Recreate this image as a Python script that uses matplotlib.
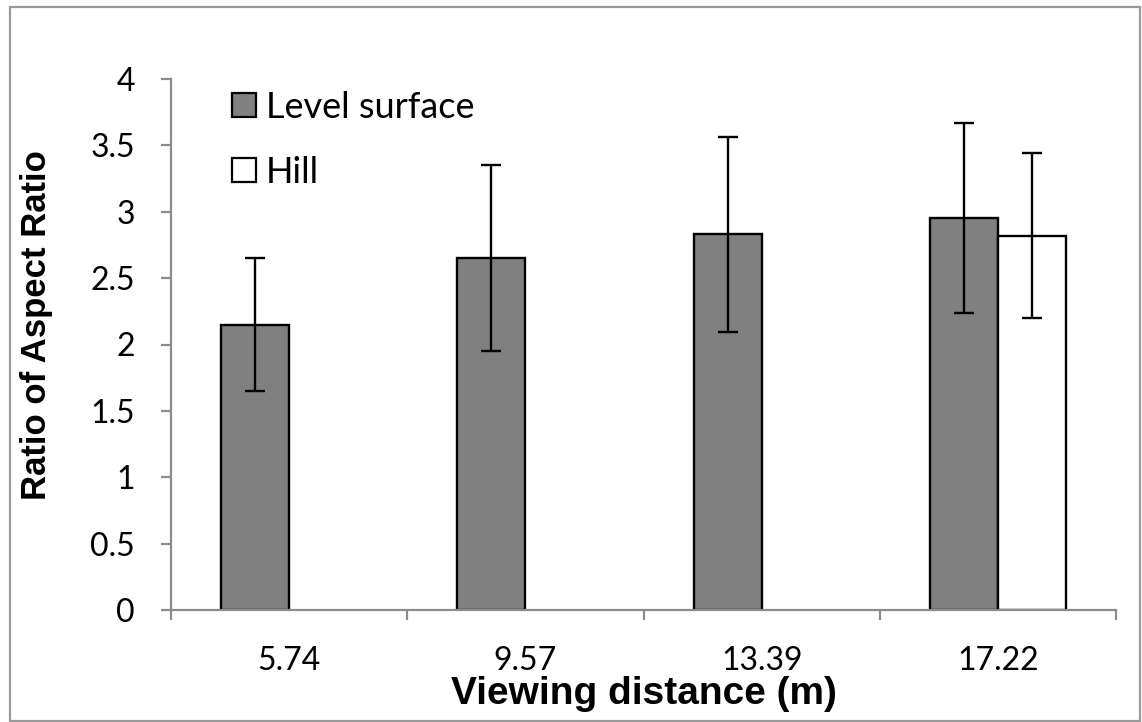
import matplotlib
matplotlib.use("Agg")
import matplotlib.pyplot as plt
from matplotlib.patches import Rectangle, Patch
import numpy as np

categories = ["5.74", "9.57", "13.39", "17.22"]
level_values = [2.15, 2.65, 2.83, 2.95]
level_errors = [0.50, 0.70, 0.735, 0.715]
hill_categories = ["17.22"]
hill_values = [2.82]
hill_errors = [0.62]
yticks = [0, 0.5, 1, 1.5, 2, 2.5, 3, 3.5, 4]
ytick_labels = ["0", "0.5", "1", "1.5", "2", "2.5", "3", "3.5", "4"]

W, H = 1142, 722
fig = plt.figure(figsize=(W / 100, H / 100), dpi=100)
ax = fig.add_axes([171 / W, 1 - 610 / H, (1116 - 171) / W, (610 - 79) / H])

tick_font = "Lato"
label_font = "Liberation Sans"

x = np.arange(len(categories))
bw = 0.288
ax.bar(x - bw / 2, level_values, width=bw, color="#808080", edgecolor="black",
       linewidth=1.7, label="Level surface", zorder=2)
ax.errorbar(x - bw / 2, level_values, yerr=level_errors, fmt="none", ecolor="black",
            elinewidth=1.7, capsize=7, capthick=1.7, zorder=3)
hx = np.array([categories.index(c) for c in hill_categories])
ax.bar(hx + bw / 2, hill_values, width=bw, color="white", edgecolor="black",
       linewidth=1.7, label="Hill", zorder=2)
ax.errorbar(hx + bw / 2, hill_values, yerr=hill_errors, fmt="none", ecolor="black",
            elinewidth=1.7, capsize=7, capthick=1.7, zorder=3)

ax.set_xlim(-0.5, len(categories) - 0.5)
ax.set_ylim(0, 4)
ax.set_yticks(yticks)
ax.set_yticklabels(ytick_labels, fontfamily=tick_font, fontsize=23)
ax.set_xticks(x)
ax.set_xticklabels(categories, fontfamily=tick_font, fontsize=23)
ax.set_xticks(np.arange(len(categories) + 1) - 0.5, minor=True)

for s in ["top", "right"]:
    ax.spines[s].set_visible(False)
for s in ["left", "bottom"]:
    ax.spines[s].set_color("#8c8c8c")
    ax.spines[s].set_linewidth(1.6)
ax.tick_params(axis="y", which="major", direction="out", length=7, width=1.6,
               color="#8c8c8c", pad=19)
ax.tick_params(axis="x", which="major", length=0, pad=26)
ax.tick_params(axis="x", which="minor", direction="out", length=7, width=1.6,
               color="#8c8c8c")

ax.set_xlabel("Viewing distance (m)", fontfamily=label_font, fontweight="bold",
              fontsize=28, labelpad=0)
ax.set_ylabel("Ratio of Aspect Ratio", fontfamily=label_font, fontweight="bold",
              fontsize=25)
ax.yaxis.set_label_coords((53 - 171) / (1116 - 171), (610 - 325) / (610 - 79))

handles = [Patch(facecolor="#808080", edgecolor="black", linewidth=1.6),
           Patch(facecolor="white", edgecolor="black", linewidth=1.6)]
fig.legend(handles, ["Level surface", "Hill"], loc="upper left",
           bbox_to_anchor=(232 / W, 1 - 91 / H), frameon=False,
           prop={"family": tick_font, "size": 26}, handlelength=0.66,
           handleheight=0.66, handletextpad=0.28, labelspacing=0.88,
           borderpad=0, borderaxespad=0)

fig.patches.append(Rectangle((10 / W, 1 / H), 1130 / W, 714 / H, transform=fig.transFigure,
                             fill=False, edgecolor="#9a9a9a", linewidth=1.6))

fig.savefig("out.png", dpi=100)
